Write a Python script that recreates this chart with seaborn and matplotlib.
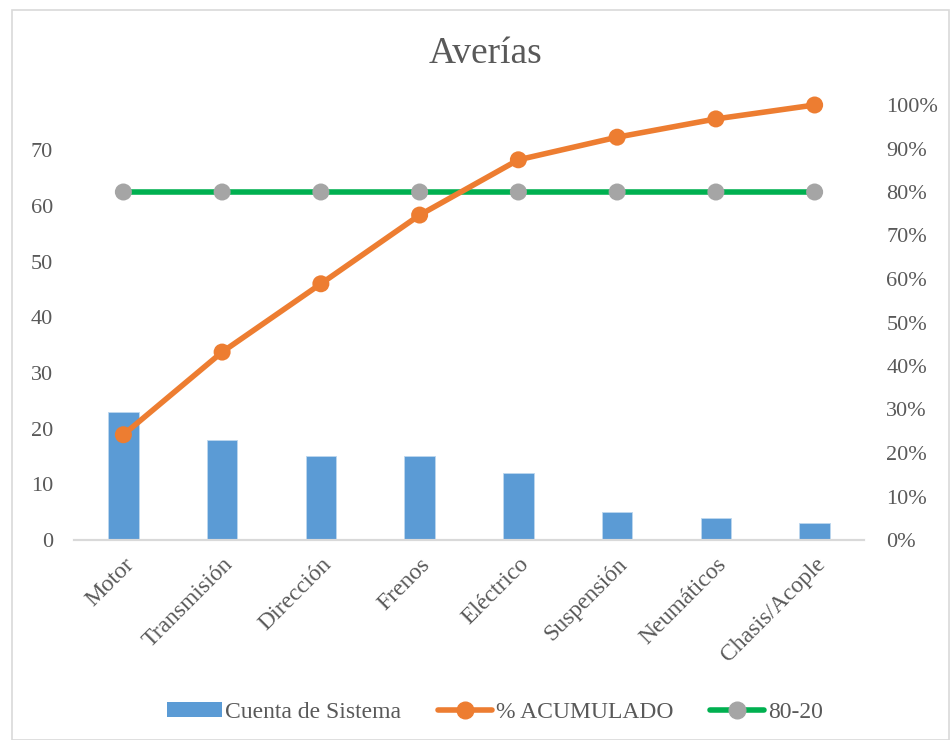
import matplotlib
matplotlib.use("Agg")
import matplotlib.pyplot as plt
import matplotlib.patches as mpatches
from matplotlib.lines import Line2D
from matplotlib.ticker import FuncFormatter, MultipleLocator
import seaborn as sns
import pandas as pd

# Failure counts per vehicle system (Pareto analysis)
categories = ["Motor", "Transmisión", "Dirección", "Frenos", "Eléctrico",
              "Suspensión", "Neumáticos", "Chasis/Acople"]
counts = [23, 18, 15, 15, 12, 5, 4, 3]
cumulative_pct = [24.2, 43.2, 58.9, 74.7, 87.4, 92.6, 96.8, 100.0]
threshold_pct = [80, 80, 80, 80, 80, 80, 80, 80]

df = pd.DataFrame({"sistema": categories, "cuenta": counts,
                   "acum": cumulative_pct, "umbral": threshold_pct})

sns.set_theme(style="white")
plt.rcParams["font.family"] = ["Liberation Serif", "DejaVu Serif"]

TXT = "#595959"
BLUE = "#5B9BD5"
ORANGE = "#ED7D31"
GREEN = "#00B050"
GREY = "#A5A5A5"

fig = plt.figure(figsize=(9.5, 7.4), dpi=100)
fig.patch.set_facecolor("white")

# chart frame
fig.patches.append(mpatches.Rectangle((12 / 950, 0), 937 / 950, 730 / 740,
                                      transform=fig.transFigure, fill=False,
                                      edgecolor="#D9D9D9", linewidth=1.2))

ax = fig.add_axes([74 / 950, 200 / 740, 790 / 950, 435 / 740])
sns.barplot(data=df, x="sistema", y="cuenta", color=BLUE, width=0.31,
            saturation=1, edgecolor="#BDD7EE", linewidth=0.6, ax=ax)
ax.set_ylim(0, 78.1)
ax.yaxis.set_major_locator(MultipleLocator(10))
ax.set_xlim(-0.5, len(categories) - 0.5)
ax.set_xlabel("")
ax.set_ylabel("")

ax2 = ax.twinx()
sns.pointplot(data=df, x="sistema", y="umbral", color=GREEN, markers="o",
              markersize=0, linewidth=4, ax=ax2)
sns.pointplot(data=df, x="sistema", y="acum", color=ORANGE, markers="o",
              markersize=0, linewidth=4, ax=ax2)
# markers drawn separately so grey dots sit on the green line
sns.scatterplot(data=df, x="sistema", y="umbral", color=GREY, s=150,
                edgecolor="none", ax=ax2, zorder=5, clip_on=False)
sns.scatterplot(data=df, x="sistema", y="acum", color=ORANGE, s=150,
                edgecolor="none", ax=ax2, zorder=6, clip_on=False)
for ln in ax2.lines:
    ln.set_clip_on(False)
ax2.set_ylim(0, 100)
ax2.yaxis.set_major_locator(MultipleLocator(10))
ax2.yaxis.set_major_formatter(FuncFormatter(lambda v, p: f"{int(round(v))}%"))
ax2.set_xlim(-0.5, len(categories) - 0.5)
ax2.set_xlabel("")
ax2.set_ylabel("")

for a in (ax, ax2):
    for s in ("top", "left", "right"):
        a.spines[s].set_visible(False)
    a.spines["bottom"].set_color("#D9D9D9")
    a.spines["bottom"].set_linewidth(1.5)
    a.tick_params(length=0, colors=TXT, labelsize=16)
    a.grid(False)
    a.set_facecolor("none")

ax.tick_params(axis="y", pad=15)
ax2.tick_params(axis="y", pad=16)
ax.set_xticks(range(len(categories)))
ax.set_xticklabels(categories, rotation=45, ha="right", rotation_mode="anchor",
                   fontsize=17, color=TXT)
ax.tick_params(axis="x", pad=10)

fig.text(486 / 950, 1 - 54 / 740, "Averías", ha="center", va="center",
         fontsize=27, color=TXT)

handles = [
    mpatches.Patch(facecolor=BLUE, edgecolor="none", label="Cuenta de Sistema"),
    Line2D([], [], color=ORANGE, linewidth=4, marker="o", markersize=12,
           markeredgecolor=ORANGE, label="% ACUMULADO"),
    Line2D([], [], color=GREEN, linewidth=4, marker="o", markersize=12,
           markerfacecolor=GREY, markeredgecolor=GREY, label="80-20"),
]
leg = fig.legend(handles=handles, loc="center", bbox_to_anchor=(495 / 950, 1 - 712 / 740),
                 ncol=3, frameon=False, fontsize=17, handlelength=2.3,
                 handletextpad=0.15, columnspacing=1.55, handleheight=0.6)
for t in leg.get_texts():
    t.set_color(TXT)

fig.savefig("out.png", dpi=100)
